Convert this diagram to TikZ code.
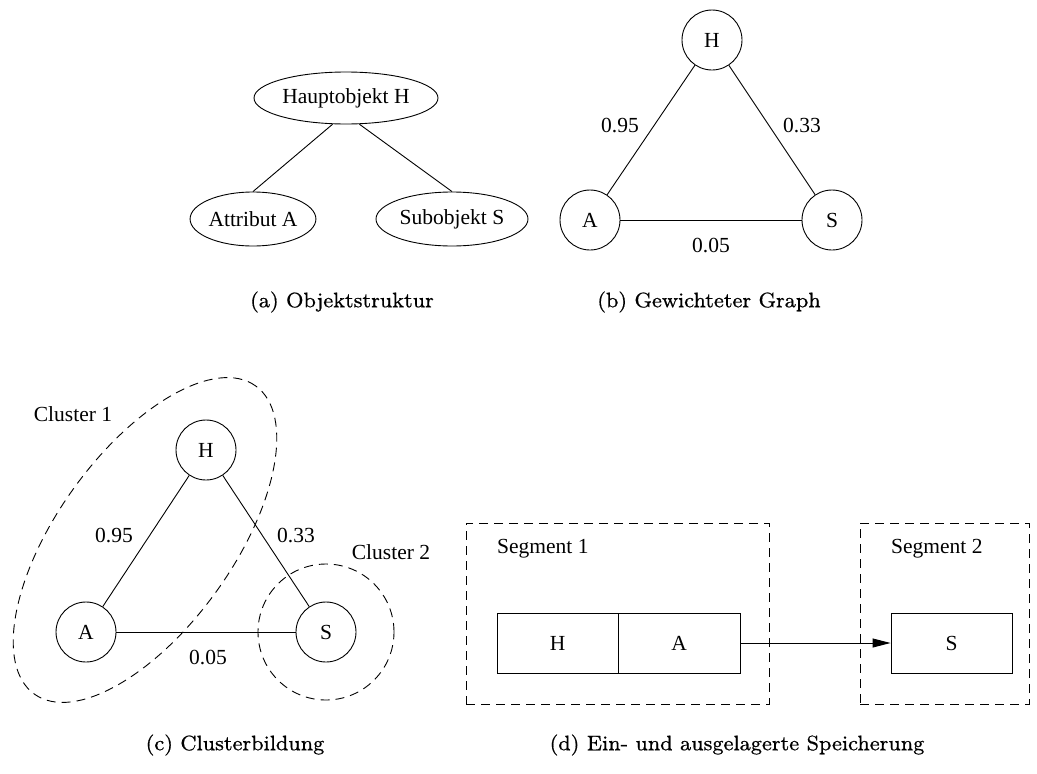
\documentclass[tikz,border=0pt]{standalone}
\usepackage{fontspec}
\setmainfont{Liberation Serif}
\newfontfamily\capfont{lmroman8-regular.otf}[FakeBold=0.6]
\usetikzlibrary{shapes.geometric,arrows.meta}

\begin{document}
\begin{tikzpicture}[x=1pt,y=-1pt,
  every node/.style={font=\fontsize{21.5}{26}\selectfont},
  thin line/.style={line width=0.9pt},
  obj/.style={draw,ellipse,inner sep=0pt,thin line},
  vert/.style={draw,circle,minimum size=60pt,inner sep=0pt,thin line},
  link/.style={thin line},
  cluster/.style={thin line,dash pattern=on 9pt off 6pt},
  segbox/.style={draw,rectangle,inner sep=0pt,thin line,dash pattern=on 9pt off 6pt},
  cell/.style={draw,rectangle,minimum height=60pt,inner sep=0pt,thin line},
  caption/.style={font=\capfont\fontsize{21}{25}\selectfont},
]
\useasboundingbox (0,0) rectangle (1037,774);

% (a) object structure
\node[obj,minimum width=184pt,minimum height=52pt] (hobj) at (346,98) {Hauptobjekt H};
\node[obj,minimum width=121pt,minimum height=54pt] (attr) at (253,219) {Attribut A};
\node[obj,minimum width=152pt,minimum height=54pt] (sobj) at (452,219) {Subobjekt S};
\draw[link] (hobj.243) -- (attr.north);
\draw[link] (hobj.297) -- (sobj.north);
\node[caption] (capa) at (342,302) {(a) Objektstruktur};

% (b) weighted graph
\node[vert] (bh) at (712,40) {H};
\node[vert] (ba) at (590,220) {A};
\node[vert] (bs) at (832,220) {S};
\draw[link] (bh) -- (ba);
\draw[link] (bh) -- (bs);
\draw[link] (ba) -- (bs);
\node (bw1) at (620,125) {0.95};
\node (bw2) at (802,125) {0.33};
\node (bw3) at (711,245) {0.05};
\node[caption] (capb) at (709,302) {(b) Gewichteter Graph};

% (c) clustering
\node[vert] (ch) at (206,450) {H};
\node[vert] (ca) at (86,632) {A};
\node[vert] (cs) at (326,632) {S};
\draw[link] (ch) -- (ca);
\draw[link] (ch) -- (cs);
\draw[link] (ca) -- (cs);
\node (cw1) at (114,535) {0.95};
\node (cw2) at (296,535) {0.33};
\node (cw3) at (208,657) {0.05};
\draw[cluster,rotate around={54.3:(145,540)}] (145,540) ellipse [x radius=189.7pt,y radius=88pt];
\draw[cluster] (cs.center) circle [radius=68pt];
\node (cl1) at (73,414) {Cluster 1};
\node (cl2) at (391,552) {Cluster 2};
\node[caption] (capc) at (235,745) {(c) Clusterbildung};

% (d) embedded and outsourced storage
\node[segbox,minimum width=303pt,minimum height=181pt] (seg1) at (617.5,613.5) {};
\node[segbox,minimum width=169pt,minimum height=181pt] (seg2) at (944.5,613.5) {};
\node[anchor=base west,inner sep=0pt] (seg1l) at (497,553) {Segment 1};
\node[anchor=base west,inner sep=0pt] (seg2l) at (891,553) {Segment 2};
\node[cell,minimum width=121.5pt] (dh) at (557.75,643) {H};
\node[cell,minimum width=121.5pt] (da) at (679.25,643) {A};
\node[cell,minimum width=121pt] (ds) at (951.5,643) {S};
\draw[link,-{Triangle[length=18pt,width=9pt]}] (da.east) -- (ds.west);
\node[caption] (capd) at (737,745) {(d) Ein- und ausgelagerte Speicherung};
\end{tikzpicture}
\end{document}
